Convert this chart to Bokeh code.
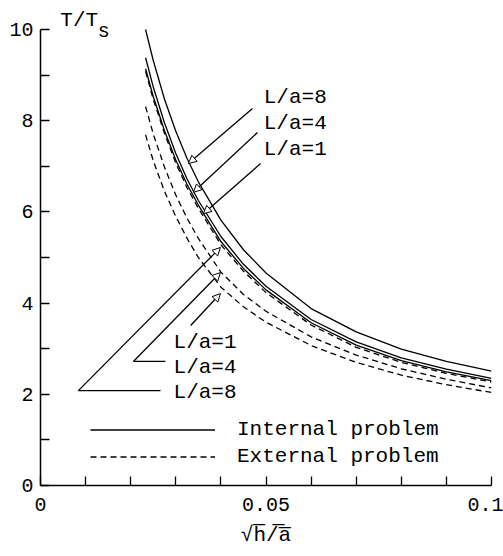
from bokeh.plotting import figure
from bokeh.models import Range1d, FixedTicker, Label, Arrow, NormalHead, Legend, LegendItem
from bokeh.embed import file_html
from bokeh.resources import INLINE

# ---- data ----
x_vals = [0.0233, 0.025, 0.0275, 0.03, 0.0325, 0.035, 0.04, 0.045, 0.05, 0.06, 0.07, 0.08, 0.09, 0.1]
internal_L8 = [10.0, 9.32, 8.47, 7.77, 7.17, 6.66, 5.82, 5.17, 4.66, 3.88, 3.37, 2.99, 2.72, 2.51]
internal_L4 = [9.38, 8.74, 7.95, 7.28, 6.72, 6.25, 5.46, 4.85, 4.37, 3.64, 3.15, 2.80, 2.55, 2.35]
internal_L1 = [9.14, 8.53, 7.78, 7.14, 6.60, 6.15, 5.35, 4.76, 4.29, 3.57, 3.08, 2.74, 2.49, 2.30]
external_L8 = [9.08, 8.47, 7.72, 7.07, 6.53, 6.08, 5.28, 4.70, 4.23, 3.52, 3.03, 2.70, 2.46, 2.27]
external_L4 = [8.31, 7.71, 6.98, 6.37, 5.86, 5.42, 4.68, 4.19, 3.82, 3.26, 2.86, 2.56, 2.33, 2.14]
external_L1 = [7.69, 7.12, 6.45, 5.90, 5.42, 5.00, 4.35, 3.92, 3.58, 3.07, 2.70, 2.42, 2.21, 2.04]

x_major_ticks = [0, 0.05, 0.1]
x_tick_labels = ["0", "0.05", "0.1"]
x_minor_ticks = [0.01, 0.02, 0.03, 0.04, 0.06, 0.07, 0.08, 0.09]
y_major_ticks = [0, 2, 4, 6, 8, 10]
y_tick_labels = ["0", "2", "4", "6", "8", "10"]
y_minor_ticks = [1, 3, 5, 7, 9]

legend_labels = ["Internal problem", "External problem"]
upper_labels = ["L/a=8", "L/a=4", "L/a=1"]
lower_labels = ["L/a=1", "L/a=4", "L/a=8"]

FONT = "Liberation Mono"
Y_TOP = 10 + 24 / 45.6   # a little room above 10 for the axis title

p = figure(width=503, height=556, output_backend="svg", toolbar_location=None,
           x_range=Range1d(0, 0.1), y_range=Range1d(0, Y_TOP),
           min_border_left=40, min_border_right=12, min_border_top=5, min_border_bottom=71)
p.xgrid.visible = False
p.ygrid.visible = False
p.outline_line_color = None
p.background_fill_color = "white"
p.border_fill_color = "white"

for ax in (p.xaxis, p.yaxis):
    ax.axis_line_width = 1.5
    ax.axis_line_color = "black"
    ax.major_tick_in = 9
    ax.major_tick_out = 0
    ax.minor_tick_in = 9
    ax.minor_tick_out = 0
    ax.major_tick_line_width = 1.3
    ax.minor_tick_line_width = 1.3
    ax.major_tick_line_color = "black"
    ax.minor_tick_line_color = "black"
    ax.major_label_text_font = FONT
    ax.major_label_text_font_size = "20px"
    ax.major_label_text_color = "black"

p.xaxis.ticker = FixedTicker(ticks=x_major_ticks, minor_ticks=x_minor_ticks)
p.xaxis.major_label_overrides = {t: l for t, l in zip(x_major_ticks, x_tick_labels)}
p.xaxis.major_label_standoff = 12
p.xaxis.axis_label = "\u221ah\u0305/\u0305a\u0305"
p.xaxis.axis_label_text_font = FONT
p.xaxis.axis_label_text_font_size = "21px"
p.xaxis.axis_label_text_font_style = "normal"
p.xaxis.axis_label_text_color = "black"
p.xaxis.axis_label_standoff = 10

p.yaxis.ticker = FixedTicker(ticks=y_major_ticks, minor_ticks=y_minor_ticks)
p.yaxis.major_label_overrides = {t: l for t, l in zip(y_major_ticks, y_tick_labels)}
p.yaxis.major_label_standoff = 7
p.yaxis.bounds = (0, 10)

solid = dict(line_color="black", line_width=1.3)
dashed = dict(line_color="black", line_width=1.3, line_dash="6 4")
r_i8 = p.line(x_vals, internal_L8, **solid)
r_i4 = p.line(x_vals, internal_L4, **solid)
r_i1 = p.line(x_vals, internal_L1, **solid)
r_e8 = p.line(x_vals, external_L8, **dashed)
r_e4 = p.line(x_vals, external_L4, **dashed)
r_e1 = p.line(x_vals, external_L1, **dashed)

# ---- annotations: curve labels with leader arrows ----
def head():
    return NormalHead(size=8, fill_color="white", line_color="black", line_width=1)

lead_kw = dict(line_color="black", line_width=1.3)
text_kw = dict(text_font=FONT, text_font_size="21px", text_baseline="middle",
               text_align="left", text_color="black")

# upper-right (internal problem)
upper_leaders = [((0.0470, 8.27), (0.0328, 7.06)),
                 ((0.0481, 7.74), (0.0339, 6.43)),
                 ((0.0488, 7.06), (0.0361, 5.96))]
upper_text_y = [8.51, 7.94, 7.37]
for (s, e), ty, lab in zip(upper_leaders, upper_text_y, upper_labels):
    p.add_layout(Arrow(x_start=s[0], y_start=s[1], x_end=e[0], y_end=e[1], end=head(), **lead_kw))
    p.add_layout(Label(x=0.0495, y=ty, text=lab, **text_kw))

# lower-left (external problem)
lower_text_y = [3.14, 2.59, 2.04]
for ty, lab in zip(lower_text_y, lower_labels):
    p.add_layout(Label(x=0.0295, y=ty, text=lab, **text_kw))
p.add_layout(Arrow(x_start=0.0333, y_start=3.51, x_end=0.0399, y_end=4.21, end=head(), **lead_kw))
p.add_layout(Arrow(x_start=0.0277, y_start=2.72, x_end=0.0206, y_end=2.72, end=None, **lead_kw))
p.add_layout(Arrow(x_start=0.0206, y_start=2.72, x_end=0.0399, y_end=4.67, end=head(), **lead_kw))
p.add_layout(Arrow(x_start=0.0266, y_start=2.08, x_end=0.0084, y_end=2.08, end=None, **lead_kw))
p.add_layout(Arrow(x_start=0.0084, y_start=2.08, x_end=0.0399, y_end=5.22, end=head(), **lead_kw))

# ---- y-axis title T/T_s ----
p.add_layout(Label(x=0.0044, y=10.2, text="T/T", **text_kw))
p.add_layout(Label(x=0.0127, y=9.96, text="s", text_font=FONT, text_font_size="20px",
                   text_baseline="middle", text_align="left", text_color="black"))

# ---- legend ----
legend = Legend(items=[LegendItem(label=legend_labels[0], renderers=[r_i8]),
                       LegendItem(label=legend_labels[1], renderers=[r_e4])],
                location=(50, 15), glyph_width=125, glyph_height=27, label_height=27,
                label_standoff=22, spacing=0, padding=0, margin=0,
                border_line_color=None, background_fill_alpha=0,
                label_text_font=FONT, label_text_font_size="21px", label_text_color="black")
p.add_layout(legend)

open("out.html", "w").write(file_html(p, INLINE))
